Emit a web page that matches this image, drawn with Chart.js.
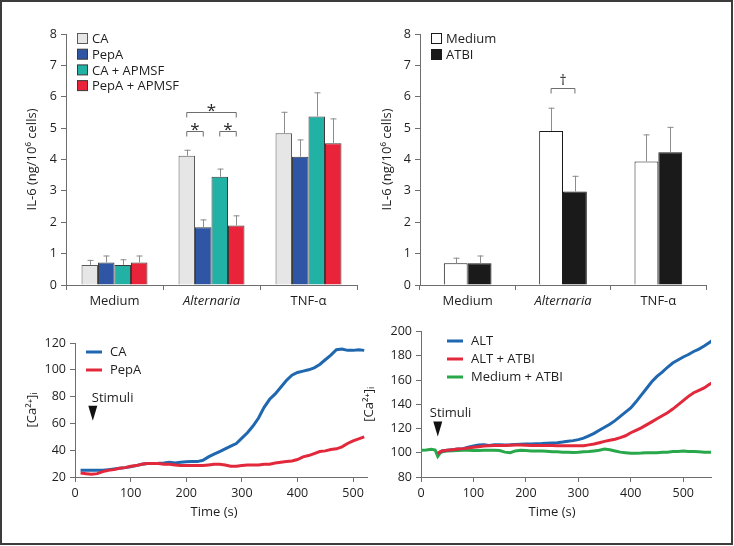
<!DOCTYPE html>
<html>
<head>
<meta charset="utf-8">
<script src="https://cdn.jsdelivr.net/npm/chart.js@4.4.1/dist/chart.umd.min.js"></script>
<style>
  body { margin: 0; background: #fff; }
  #wrap { position: relative; width: 734px; height: 546px; }
  #frame { position: absolute; left: 0; top: 0; width: 733px; height: 545px; box-sizing: border-box; border: 2px solid #3c3c3c; }
  canvas { position: absolute; }
</style>
</head>
<body>
<div id="wrap">
  <div id="frame"></div>
  <canvas id="barPep" width="367" height="320" style="left:0;top:0"></canvas>
  <canvas id="barAtbi" width="367" height="320" style="left:367px;top:0"></canvas>
  <canvas id="lineCa" width="372" height="226" style="left:0;top:320px"></canvas>
  <canvas id="lineAlt" width="379" height="226" style="left:355px;top:320px"></canvas>
</div>
<script>
// bar panels
const categories = ['Medium', 'Alternaria', 'TNF-α'];

const caMeans = [0.64, 4.12, 4.84];
const caErr = [0.16, 0.19, 0.68];
const pepaMeans = [0.72, 1.84, 4.09];
const pepaErr = [0.22, 0.25, 0.55];
const caApmsfMeans = [0.64, 3.45, 5.37];
const caApmsfErr = [0.18, 0.26, 0.77];
const pepaApmsfMeans = [0.72, 1.9, 4.52];
const pepaApmsfErr = [0.22, 0.32, 0.79];

const mediumMeans = [0.69, 4.91, 3.94];
const mediumErr = [0.18, 0.74, 0.86];
const atbiMeans = [0.69, 2.98, 4.23];
const atbiErr = [0.25, 0.5, 0.81];

const il6Ticks = [0, 1, 2, 3, 4, 5, 6, 7, 8];

// calcium traces
const timeC = [10, 20, 30, 40, 50, 60, 70, 80, 90, 100,
  110, 120, 130, 140, 150, 160, 170, 180, 190, 200,
  210, 220, 230, 240, 250, 260, 270, 280, 290, 300,
  310, 320, 330, 340, 350, 360, 370, 380, 390, 400,
  410, 420, 430, 440, 450, 460, 470, 480, 490, 500,
  510, 520];
const caTrace = [25, 25, 25, 25, 25, 25.5, 26, 26.5, 27, 27.7,
  28.5, 29.5, 30, 30, 30.2, 30.5, 31, 30.5, 31, 31.4,
  31.5, 31.5, 32.5, 35, 37, 39, 41, 43, 45, 49,
  53, 58, 64, 72, 78, 82, 87, 92, 96, 98,
  99, 100, 101.5, 104, 107.5, 111, 115, 115.5, 114.5, 114.5,
  115, 114.5];
const pepaTrace = [23, 22.5, 22, 22.5, 24, 25, 25.5, 26.5, 27, 28,
  28.5, 29.5, 30, 30, 30, 29.5, 29.5, 29, 28.5, 28.5,
  28.5, 28.5, 28.5, 29, 29.5, 29.5, 29, 28, 28, 28.5,
  29, 29, 29, 29.5, 29.5, 30.5, 31, 31.5, 32, 33,
  35, 36, 37.5, 39, 39.5, 40.5, 41, 42.5, 45, 47,
  48.5, 50];

const timeD = [0, 10, 20, 27, 32, 36, 40,
  50, 60, 70, 80, 90, 100, 110, 120, 130, 140,
  150, 160, 170, 180, 190, 200, 210, 220, 230, 240,
  250, 260, 270, 280, 290, 300, 310, 320, 330, 340,
  350, 360, 370, 380, 390, 400, 410, 420, 430, 440,
  450, 460, 470, 480, 490, 500, 510, 520, 530, 540,
  550, 555];
const altTrace = [null, null, null, null, 99.5, 100.5, 101.5,
  102, 102.5, 103, 103.4, 104.5, 105.5, 106.3, 106.5, 106, 106.5,
  106.5, 106.3, 106.5, 106.8, 107, 107.2, 107.3, 107.5, 107.6, 107.8,
  108, 108.2, 108.8, 109.5, 110, 110.8, 112, 114, 116, 118.5,
  121, 123.5, 126.5, 130, 133.5, 137, 142, 147.5, 153, 158.5,
  163, 166.5, 170.5, 174, 176.5, 179, 181, 183.5, 185.5, 188,
  191, 192.5];
const altAtbiTrace = [null, null, null, null, 99.5, 100.5, 101.5,
  102, 102.5, 103, 103.4, 104, 104.5, 105, 105.5, 105.8, 106,
  106, 106, 106.2, 106.3, 106.3, 106.2, 106, 106, 106, 106,
  106, 105.8, 105.8, 105.7, 105.7, 105.7, 105.8, 106.5, 107.2, 108.3,
  109.4, 110.3, 111.2, 112.5, 114, 116.5, 118.5, 120.5, 123, 125.5,
  128, 130.5, 133, 136, 139.5, 143, 146.5, 149.5, 151.5, 153.5,
  156.5, 157.5];
const mediumAtbiTrace = [102, 102.3, 102.8, 102.2, 97, 99.5, 100.8,
  101.5, 101.7, 101.8, 102, 102, 101.8, 101.8, 102, 102, 102,
  101.8, 100.5, 100, 101.5, 102, 101.8, 101.5, 101.5, 101.5, 101.3,
  100.8, 100.8, 100.5, 100.5, 100.3, 100.5, 100.8, 101, 101.5, 102,
  103, 102.5, 101.5, 100.5, 100, 99.5, 99.5, 99.7, 100, 100,
  100, 100.5, 100.5, 101, 101, 101.5, 101, 101, 100.8, 100.5,
  100.5, 100.5];

const AXIS = '#6e6e6e';
const TEXT = '#1e1e1e';
const FONT = "'Open Sans', sans-serif";
const LABEL_SIZE = 13;
Chart.defaults.font.family = FONT;
Chart.defaults.font.size = 12.5;
Chart.defaults.color = TEXT;

const errorBars = {
  id: 'errorBars',
  afterDatasetsDraw(chart) {
    const ctx = chart.ctx;
    const y = chart.scales.y;
    ctx.save();
    ctx.strokeStyle = '#8c8c8c';
    ctx.lineWidth = 1;
    chart.data.datasets.forEach((ds, i) => {
      chart.getDatasetMeta(i).data.forEach((bar, j) => {
        const top = y.getPixelForValue(ds.data[j] + ds.errors[j]);
        const x = Math.round(bar.x) + 0.5;
        ctx.beginPath();
        ctx.moveTo(x, bar.y);
        ctx.lineTo(x, top);
        ctx.moveTo(x - 3, top + 0.5);
        ctx.lineTo(x + 3, top + 0.5);
        ctx.stroke();
      });
    });
    ctx.restore();
  }
};

const brackets = {
  id: 'brackets',
  afterDatasetsDraw(chart, args, opts) {
    const ctx = chart.ctx;
    ctx.save();
    ctx.strokeStyle = '#6e6e6e';
    ctx.lineWidth = 1;
    ctx.fillStyle = TEXT;
    ctx.textAlign = 'center';
    (opts.items || []).forEach(b => {
      const x1 = chart.getDatasetMeta(b.from).data[b.cat].x;
      const x2 = chart.getDatasetMeta(b.to).data[b.cat].x;
      const yy = Math.round(chart.scales.y.getPixelForValue(b.at)) + 0.5;
      ctx.beginPath();
      ctx.moveTo(x1, yy + 5);
      ctx.lineTo(x1, yy);
      ctx.lineTo(x2, yy);
      ctx.lineTo(x2, yy + 5);
      ctx.stroke();
      ctx.font = b.font;
      ctx.textBaseline = 'alphabetic';
      ctx.fillText(b.label, (x1 + x2) / 2, yy + b.dy);
    });
    ctx.restore();
  }
};

const sideLegend = {
  id: 'sideLegend',
  afterDraw(chart, args, opts) {
    const ctx = chart.ctx;
    ctx.save();
    ctx.font = LABEL_SIZE + 'px ' + FONT;
    ctx.textBaseline = 'middle';
    chart.data.datasets.forEach((ds, i) => {
      const y = opts.y + i * opts.gap;
      if (opts.kind === 'line') {
        ctx.strokeStyle = ds.borderColor;
        ctx.lineWidth = 3;
        ctx.beginPath();
        ctx.moveTo(opts.x, y);
        ctx.lineTo(opts.x + 16, y);
        ctx.stroke();
        ctx.fillStyle = TEXT;
        ctx.fillText(ds.label, opts.x + 24, y);
      } else {
        ctx.fillStyle = ds.backgroundColor;
        ctx.fillRect(opts.x + 0.5, y - 5.5, 10, 10);
        ctx.strokeStyle = ds.borderColor;
        ctx.lineWidth = 1;
        ctx.strokeRect(opts.x + 0.5, y - 5.5, 10, 10);
        ctx.fillStyle = TEXT;
        ctx.fillText(ds.label, opts.x + 15, y + 0.5);
      }
    });
    ctx.restore();
  }
};

const stimuli = {
  id: 'stimuli',
  afterDraw(chart, args, opts) {
    const ctx = chart.ctx;
    const x = chart.scales.x.getPixelForValue(opts.at);
    const tip = chart.scales.y.getPixelForValue(opts.tip);
    ctx.save();
    ctx.fillStyle = '#111';
    ctx.beginPath();
    ctx.moveTo(x - 4.5, tip - 15);
    ctx.lineTo(x + 4.5, tip - 15);
    ctx.lineTo(x, tip);
    ctx.closePath();
    ctx.fill();
    ctx.fillStyle = TEXT;
    ctx.font = LABEL_SIZE + 'px ' + FONT;
    ctx.textAlign = 'left';
    ctx.textBaseline = 'alphabetic';
    ctx.fillText('Stimuli', x + opts.dx, tip - 19);
    ctx.textAlign = 'center';
    ctx.fillText('Time (s)', chart.scales.x.getPixelForValue(opts.titleAt), chart.height - 30);
    ctx.restore();
  }
};

function barChart(id, datasets, opts) {
  return new Chart(document.getElementById(id), {
    type: 'bar',
    data: { labels: categories, datasets },
    options: {
      responsive: false,
      animation: false,
      layout: { padding: { top: 34, right: opts.right, left: 0, bottom: 0 } },
      datasets: { bar: { categoryPercentage: opts.catPct, barPercentage: 1, borderWidth: 1 } },
      plugins: {
        legend: { display: false },
        tooltip: { enabled: false },
        sideLegend: opts.legend,
        brackets: { items: opts.brackets }
      },
      scales: {
        x: {
          grid: { drawOnChartArea: false, tickLength: 5, color: AXIS, offset: true },
          border: { color: AXIS },
          ticks: {
            color: TEXT, padding: 3, autoSkip: false, maxRotation: 0,
            font: c => ({ family: FONT, size: LABEL_SIZE, style: c.index === 1 ? 'italic' : 'normal' })
          },
          afterFit: s => { s.height = 35; }
        },
        y: {
          min: il6Ticks[0], max: il6Ticks[il6Ticks.length - 1],
          afterBuildTicks: s => { s.ticks = il6Ticks.map(v => ({ value: v })); },
          grid: { drawOnChartArea: false, tickLength: 5, color: AXIS },
          border: { color: AXIS },
          ticks: { color: TEXT, padding: 4 },
          title: { display: true, text: 'IL-6 (ng/10⁶ cells)', color: TEXT, font: { size: LABEL_SIZE }, padding: { top: opts.titlePad, bottom: 0 } },
          afterFit: s => { s.width = opts.yWidth; }
        }
      }
    },
    plugins: [errorBars, brackets, sideLegend]
  });
}

barChart('barPep', [
  { label: 'CA', data: caMeans, errors: caErr, backgroundColor: '#e6e6e6', borderColor: '#5a5a5a' },
  { label: 'PepA', data: pepaMeans, errors: pepaErr, backgroundColor: '#2e56a5', borderColor: '#3a3a3a' },
  { label: 'CA + APMSF', data: caApmsfMeans, errors: caApmsfErr, backgroundColor: '#21b1a5', borderColor: '#3a3a3a' },
  { label: 'PepA + APMSF', data: pepaApmsfMeans, errors: pepaApmsfErr, backgroundColor: '#e8233a', borderColor: '#3a3a3a' }
], {
  right: 10, catPct: 0.68, yWidth: 66, titlePad: 24,
  legend: { kind: 'box', x: 77, y: 39, gap: 15.7 },
  brackets: [
    { cat: 1, from: 0, to: 3, at: 5.5, label: '*', dy: 3, font: '17px ' + FONT },
    { cat: 1, from: 0, to: 1, at: 4.9, label: '*', dy: 3, font: '17px ' + FONT },
    { cat: 1, from: 2, to: 3, at: 4.9, label: '*', dy: 3, font: '17px ' + FONT }
  ]
});

barChart('barAtbi', [
  { label: 'Medium', data: mediumMeans, errors: mediumErr, backgroundColor: '#ffffff', borderColor: '#1a1a1a' },
  { label: 'ATBI', data: atbiMeans, errors: atbiErr, backgroundColor: '#1a1a1a', borderColor: '#1a1a1a' }
], {
  right: 28, catPct: 0.5, yWidth: 53, titlePad: 12,
  legend: { kind: 'box', x: 64, y: 39, gap: 16 },
  brackets: [
    { cat: 1, from: 0, to: 1, at: 6.27, label: '†', dy: -4, font: '14px ' + FONT }
  ]
});

function lineChart(id, times, series, opts) {
  return new Chart(document.getElementById(id), {
    type: 'line',
    data: {
      datasets: series.map(s => ({
        label: s.label,
        data: times.map((t, i) => ({ x: t, y: s.values[i] })),
        borderColor: s.color,
        borderWidth: 3,
        pointRadius: 0,
        tension: 0,
        order: s.order
      }))
    },
    options: {
      responsive: false,
      animation: false,
      layout: { padding: { top: opts.top, right: opts.right, left: 0, bottom: 0 } },
      plugins: {
        legend: { display: false },
        tooltip: { enabled: false },
        sideLegend: opts.legend,
        stimuli: opts.stimuli
      },
      scales: {
        x: {
          type: 'linear', min: 0, max: opts.xMax,
          grid: { drawOnChartArea: false, tickLength: 5, color: AXIS },
          border: { color: AXIS },
          ticks: { stepSize: 100, includeBounds: false, color: TEXT, padding: 4, maxRotation: 0 },
          afterFit: s => { s.height = 69; }
        },
        y: {
          min: opts.yMin, max: opts.yMax,
          grid: { drawOnChartArea: false, tickLength: 5, color: AXIS },
          border: { color: AXIS },
          ticks: { stepSize: 20, color: TEXT, padding: 4 },
          title: { display: true, text: '[Ca²⁺]ᵢ', color: TEXT, font: { size: LABEL_SIZE }, padding: { top: opts.titlePad, bottom: 0 } },
          afterFit: s => { s.width = opts.yWidth; }
        }
      }
    },
    plugins: [sideLegend, stimuli]
  });
}

lineChart('lineCa', timeC, [
  { label: 'CA', values: caTrace, color: '#1f67ae', order: 1 },
  { label: 'PepA', values: pepaTrace, color: '#e2283b', order: 0 }
], {
  top: 23, right: 5, xMax: 525, yMin: 20, yMax: 120, yWidth: 75, titlePad: 24,
  legend: { kind: 'line', x: 86, y: 32, gap: 18 },
  stimuli: { at: 32, tip: 62, dx: -1, titleAt: 250 }
});

lineChart('lineAlt', timeD, [
  { label: 'ALT', values: altTrace, color: '#1f67ae', order: 1 },
  { label: 'ALT + ATBI', values: altAtbiTrace, color: '#e2283b', order: 0 },
  { label: 'Medium + ATBI', values: mediumAtbiTrace, color: '#28a84b', order: 2 }
], {
  top: 10, right: 23, xMax: 553, yMin: 80, yMax: 200, yWidth: 66, titlePad: 6,
  legend: { kind: 'line', x: 92, y: 21, gap: 18 },
  stimuli: { at: 32, tip: 113.5, dx: -8, titleAt: 250 }
});
</script>
</body>
</html>
